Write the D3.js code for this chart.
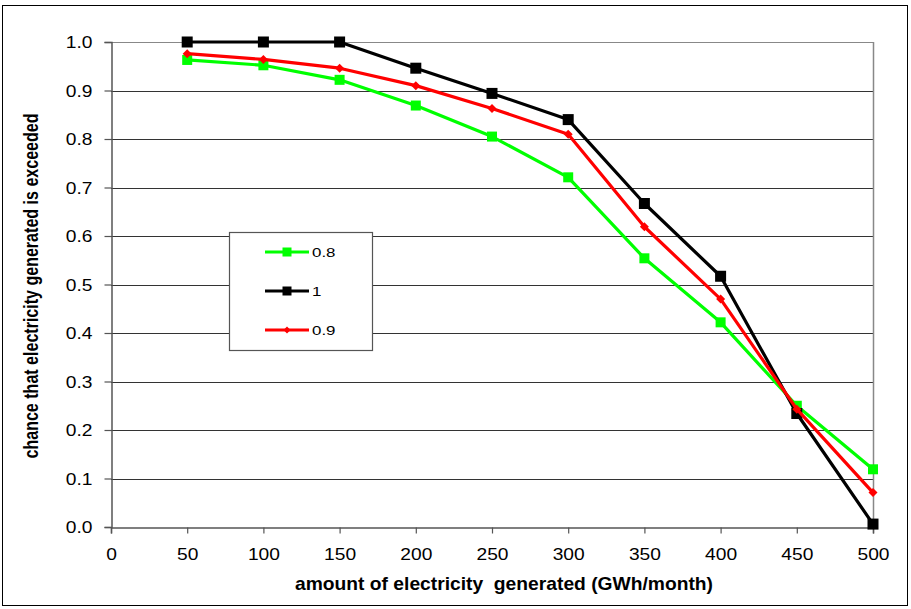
<!DOCTYPE html>
<html>
<head>
<meta charset="utf-8">
<script src="https://cdn.jsdelivr.net/npm/d3@7"></script>
<style>
  body { margin: 0; background: #fff; }
  svg { font-family: "Liberation Sans", Arial, sans-serif; }
</style>
</head>
<body>
<div id="chart"></div>
<script>
// data
var amounts = [50, 100, 150, 200, 250, 300, 350, 400, 450, 500];
var series08 = [0.963, 0.952, 0.922, 0.869, 0.805, 0.721, 0.554, 0.422, 0.250, 0.119];
var series1 = [1.0, 1.0, 1.0, 0.946, 0.894, 0.840, 0.667, 0.517, 0.234, 0.006];
var series09 = [0.976, 0.964, 0.946, 0.910, 0.863, 0.810, 0.619, 0.470, 0.243, 0.071];
var xTicks = [0, 50, 100, 150, 200, 250, 300, 350, 400, 450, 500];
var yTicks = [0, 0.1, 0.2, 0.3, 0.4, 0.5, 0.6, 0.7, 0.8, 0.9, 1.0];

var w = 911;
var h = 609;
var pLeft = 111, pRight = 873, pTop = 42, pBottom = 527;
var stretch = 1.2;

var svg = d3.select("#chart")
            .append("svg")
            .attr("width", w)
            .attr("height", h);

// outer frame
svg.append("rect")
   .attr("x", 2.5).attr("y", 5.5)
   .attr("width", 905).attr("height", 600)
   .attr("fill", "none")
   .attr("stroke", "#000")
   .attr("stroke-width", 1);

var x = d3.scaleLinear().domain([0, 500]).range([pLeft, pRight]);
var y = d3.scaleLinear().domain([0, 1]).range([pBottom, pTop]);

// gridlines
svg.append("g")
   .selectAll("line")
   .data(yTicks.slice(1))
   .enter()
   .append("line")
   .attr("x1", pLeft)
   .attr("x2", pRight)
   .attr("y1", function(d) { return Math.round(y(d)) + 0.5; })
   .attr("y2", function(d) { return Math.round(y(d)) + 0.5; })
   .attr("stroke", function(d) { return d === 1 ? "#888" : "#333"; })
   .attr("stroke-width", 1.2);

// right border of plot area
svg.append("line")
   .attr("x1", pRight + 0.5).attr("x2", pRight + 0.5)
   .attr("y1", pTop).attr("y2", pBottom)
   .attr("stroke", "#888").attr("stroke-width", 1.5);

// axes
var xAxis = d3.axisBottom(x).tickValues(xTicks).tickSize(6);
var yAxis = d3.axisLeft(y).tickValues(yTicks).tickSize(7)
              .tickFormat(d3.format(".1f"));

var gx = svg.append("g")
   .attr("transform", "translate(0," + (pBottom + 0.5) + ")")
   .call(xAxis);
var gy = svg.append("g")
   .attr("transform", "translate(" + (pLeft + 0.5) + ",0)")
   .call(yAxis);

[gx, gy].forEach(function(g) {
    g.select(".domain").attr("stroke", "#555").attr("stroke-width", 1.5);
    g.selectAll(".tick line").attr("stroke", "#555").attr("stroke-width", 1.2);
    g.selectAll(".tick text")
     .attr("fill", "#000")
     .style("font-size", "16px")
     .style("font-family", "Liberation Sans, Arial, sans-serif");
});
gx.selectAll(".tick text")
  .attr("y", 0).attr("dy", 0)
  .attr("transform", "translate(0,32) scale(" + stretch + ",1)");
gy.selectAll(".tick text")
  .attr("x", 0).attr("dy", "0.36em")
  .attr("transform", "translate(-19,0) scale(" + stretch + ",1)");

// axis titles
svg.append("text")
   .attr("x", 504)
   .attr("y", 590)
   .attr("text-anchor", "middle")
   .attr("textLength", 418)
   .attr("lengthAdjust", "spacingAndGlyphs")
   .style("font-size", "19px")
   .style("font-weight", "bold")
   .style("white-space", "pre")
   .text("amount of electricity  generated (GWh/month)");

svg.append("text")
   .attr("transform", "translate(38,286) scale(1.3,1) rotate(-90)")
   .attr("text-anchor", "middle")
   .attr("textLength", 345)
   .attr("lengthAdjust", "spacingAndGlyphs")
   .style("font-size", "16px")
   .style("font-weight", "bold")
   .text("chance that electricity generated is exceeded");

var line = d3.line()
    .x(function(d, i) { return x(amounts[i]); })
    .y(function(d) { return y(d); });

var allSeries = [
    { name: "0.8", values: series08, color: "#00ff00", marker: "square", size: 10 },
    { name: "1", values: series1, color: "#000000", marker: "square", size: 11 },
    { name: "0.9", values: series09, color: "#ff0000", marker: "diamond", size: 9 }
];

function drawMarker(g, s, cx, cy) {
    if (s.marker === "square") {
        g.append("rect")
         .attr("x", cx - s.size / 2)
         .attr("y", cy - s.size / 2)
         .attr("width", s.size)
         .attr("height", s.size)
         .attr("fill", s.color);
    } else {
        var r = s.size / 2;
        g.append("path")
         .attr("d", "M" + cx + "," + (cy - r) + "L" + (cx + r) + "," + cy +
                    "L" + cx + "," + (cy + r) + "L" + (cx - r) + "," + cy + "Z")
         .attr("fill", s.color);
    }
}

// draw order: green, black, red (red on top)
allSeries.forEach(function(s) {
    var g = svg.append("g");
    g.append("path")
     .datum(s.values)
     .attr("d", line)
     .attr("fill", "none")
     .attr("stroke", s.color)
     .attr("stroke-width", 3.2)
     .attr("stroke-linejoin", "round");
    s.values.forEach(function(v, i) {
        drawMarker(g, s, x(amounts[i]), y(v));
    });
});

// legend
var lg = svg.append("g");
lg.append("rect")
  .attr("x", 229.5).attr("y", 232.5)
  .attr("width", 143).attr("height", 118)
  .attr("fill", "#fff")
  .attr("stroke", "#555")
  .attr("stroke-width", 1.2);

var legendY = [252, 291, 330];
allSeries.forEach(function(s, i) {
    var ly = legendY[i];
    lg.append("line")
      .attr("x1", 265).attr("x2", 309)
      .attr("y1", ly).attr("y2", ly)
      .attr("stroke", s.color)
      .attr("stroke-width", 3.2);
    var ls = { marker: s.marker, color: s.color, size: s.marker === "square" ? 9 : 7 };
    drawMarker(lg, ls, 287, ly);
    lg.append("text")
      .attr("transform", "translate(312," + ly + ") scale(1.3,1)")
      .attr("dy", "0.36em")
      .style("font-size", "13px")
      .text(s.name);
});
</script>
</body>
</html>
